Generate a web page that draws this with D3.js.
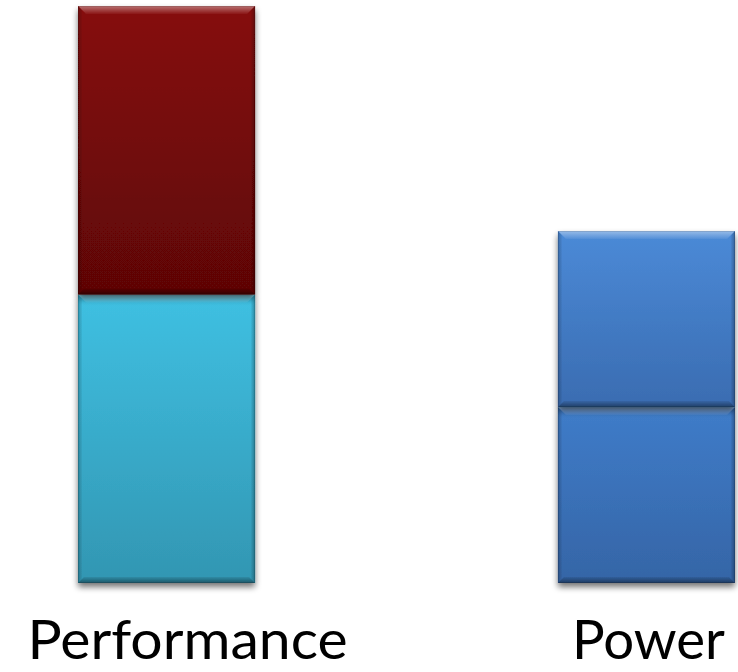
<!DOCTYPE html>
<html>
<head>
<meta charset="utf-8">
<script src="https://cdn.jsdelivr.net/npm/d3@7"></script>
<style>
  html, body { margin: 0; padding: 0; background: #ffffff; }
  svg { display: block; }
</style>
</head>
<body>
<svg id="chart" width="738" height="672"></svg>
<script>
// Categories and the two stacked layers of each bar
const categories = ["Performance", "Power"];
const layerKeys = ["base", "extra"];
const baseValues = [100, 61];
const extraValues = [100, 61];

// Fill colours per category and layer: [top of gradient, bottom of gradient]
const baseColors = [["#3fc0e2", "#3296b2"], ["#3f7cc9", "#3565a6"]];
const extraColors = [["#860a0a", "#5e0606"], ["#4b8ad7", "#3a6cb1"]];

const W = 738, H = 672;
const svg = d3.select("#chart");
const defs = svg.append("defs");

// Soft drop shadow round each segment
const shadow = defs.append("filter").attr("id", "shadow")
  .attr("x", "-10%").attr("y", "-10%").attr("width", "120%").attr("height", "120%");
shadow.append("feGaussianBlur").attr("in", "SourceAlpha").attr("stdDeviation", 3.2).attr("result", "b");
shadow.append("feOffset").attr("in", "b").attr("dx", 0).attr("dy", 4).attr("result", "o");
shadow.append("feComponentTransfer").attr("in", "o").attr("result", "s")
  .append("feFuncA").attr("type", "linear").attr("slope", 0.55);
const merge = shadow.append("feMerge");
merge.append("feMergeNode").attr("in", "s");
merge.append("feMergeNode").attr("in", "SourceGraphic");

const rows = categories.map((c, i) => ({ category: c, base: baseValues[i], extra: extraValues[i], i }));
const stacked = d3.stack().keys(layerKeys)(rows);

const x = d3.scaleBand().domain(categories).range([78, 735]).paddingInner(0.631).paddingOuter(0);
const y = d3.scaleLinear().domain([0, 200]).range([583, 6]);

const colorFor = (key, i) => (key === "base" ? baseColors : extraColors)[i];

// Vertical fill gradients
stacked.forEach(layer => {
  rows.forEach((r, i) => {
    const c = colorFor(layer.key, i);
    const g = defs.append("linearGradient").attr("id", `fill-${layer.key}-${i}`)
      .attr("x1", 0).attr("y1", 0).attr("x2", 0).attr("y2", 1);
    g.append("stop").attr("offset", "0%").attr("stop-color", c[0]);
    g.append("stop").attr("offset", "100%").attr("stop-color", c[1]);
  });
});

// Bevel edge gradients
function edgeGrad(id, x2, y2, color, a0, a1) {
  const g = defs.append("linearGradient").attr("id", id)
    .attr("x1", 0).attr("y1", 0).attr("x2", x2).attr("y2", y2);
  g.append("stop").attr("offset", "0%").attr("stop-color", color).attr("stop-opacity", a0);
  g.append("stop").attr("offset", "100%").attr("stop-color", color).attr("stop-opacity", a1);
}
edgeGrad("bevTop", 0, 1, "#ffffff", 0.42, 0.05);
edgeGrad("bevBottom", 0, 1, "#000000", 0.08, 0.42);
edgeGrad("bevLeft", 1, 0, "#000000", 0.22, 0.04);
edgeGrad("bevRight", 1, 0, "#000000", 0.04, 0.28);

const B = 8;   // bevel depth
const plot = svg.append("g");

stacked.forEach(layer => {
  const lg = plot.append("g").attr("class", `layer-${layer.key}`);
  layer.forEach((d, i) => {
    const x0 = x(d.data.category), x1 = x0 + x.bandwidth();
    const y0 = y(d[1]), y1 = y(d[0]);
    const seg = lg.append("g").attr("filter", "url(#shadow)");
    seg.append("rect")
      .attr("x", x0).attr("y", y0)
      .attr("width", x1 - x0).attr("height", y1 - y0)
      .attr("fill", `url(#fill-${layer.key}-${i})`);
    const poly = pts => pts.map(p => p.join(",")).join(" ");
    seg.append("polygon").attr("points", poly([[x0, y0], [x1, y0], [x1 - B, y0 + B], [x0 + B, y0 + B]]))
      .attr("fill", "url(#bevTop)");
    seg.append("polygon").attr("points", poly([[x0 + 6, y1 - 6], [x1 - 6, y1 - 6], [x1, y1], [x0, y1]]))
      .attr("fill", "url(#bevBottom)");
    seg.append("polygon").attr("points", poly([[x0, y0], [x0 + 4, y0 + 4], [x0 + 4, y1 - 4], [x0, y1]]))
      .attr("fill", "url(#bevLeft)");
    seg.append("polygon").attr("points", poly([[x1 - 4, y0 + 4], [x1, y0], [x1, y1], [x1 - 4, y1 - 4]]))
      .attr("fill", "url(#bevRight)");
    seg.append("rect")
      .attr("x", x0 + 0.5).attr("y", y0 + 0.5)
      .attr("width", x1 - x0 - 1).attr("height", y1 - y0 - 1)
      .attr("fill", "none").attr("stroke", "#000").attr("stroke-opacity", 0.12);
  });
});

// Category labels under the bars
const labelShift = { "Performance": 21, "Power": 2 };
const labelWidth = { "Performance": 320, "Power": 153 };
svg.append("g").selectAll("text").data(categories).join("text")
  .attr("x", d => x(d) + x.bandwidth() / 2 + labelShift[d])
  .attr("y", 659)
  .attr("text-anchor", "middle")
  .attr("font-family", "Lato, 'Open Sans', sans-serif")
  .attr("font-size", 54)
  .attr("fill", "#000000")
  .attr("textLength", d => labelWidth[d])
  .attr("lengthAdjust", "spacingAndGlyphs")
  .text(d => d);
</script>
</body>
</html>
